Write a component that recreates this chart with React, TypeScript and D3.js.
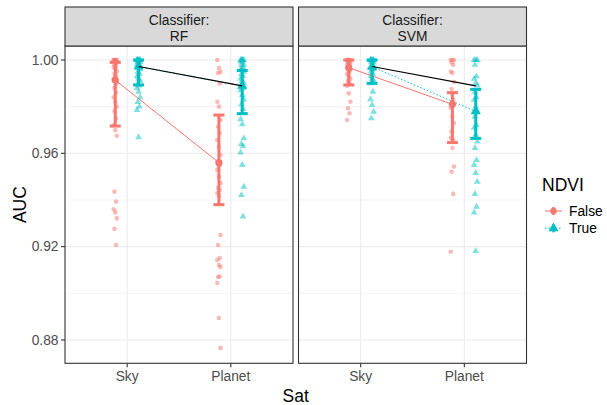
import React from 'react';
import * as d3 from 'd3';

const classifiers = ['RF', 'SVM'];
const sats = ['Sky', 'Planet'];
const ndviLevels = ['False', 'True'];
const yTicks = [0.88, 0.92, 0.96, 1.0];
const yMinor = [0.9, 0.94, 0.98];

// raw AUC points per group
const rfFalseSky = [1.0, 1.0, 1.0, 1.0, 1.0, 1.0, 0.9995, 0.999, 0.998, 0.9975, 0.997, 0.996, 0.995, 0.994, 0.993, 0.992, 0.991, 0.99, 0.988, 0.986, 0.984, 0.982, 0.98, 0.978, 0.975, 0.972, 0.97, 0.9675, 0.9436, 0.9393, 0.936, 0.9347, 0.9321, 0.9276, 0.9207];
const rfFalsePlanet = [1.0, 0.9966, 0.9949, 0.9944, 0.99, 0.9821, 0.98, 0.9743, 0.9714, 0.9687, 0.9657, 0.9628, 0.9593, 0.9564, 0.955, 0.9529, 0.95, 0.9473, 0.9451, 0.9443, 0.943, 0.9417, 0.925, 0.9207, 0.9151, 0.9143, 0.9121, 0.9113, 0.907, 0.9072, 0.9044, 0.8894, 0.8766];
const rfTrueSky = [1.0, 1.0, 1.0, 1.0, 1.0, 1.0, 0.9995, 0.999, 0.999, 0.998, 0.998, 0.997, 0.996, 0.995, 0.994, 0.993, 0.992, 0.991, 0.99, 0.989, 0.988, 0.9864, 0.984, 0.982, 0.98, 0.9786, 0.9669];
const rfTruePlanet = [1.0, 1.0, 1.0, 1.0, 1.0, 0.9995, 0.999, 0.998, 0.998, 0.997, 0.996, 0.996, 0.995, 0.994, 0.993, 0.992, 0.991, 0.99, 0.989, 0.988, 0.987, 0.985, 0.983, 0.981, 0.979, 0.9746, 0.9724, 0.9664, 0.964, 0.963, 0.9603, 0.955, 0.9457, 0.9421, 0.9329];
const svmFalseSky = [1.0, 1.0, 1.0, 1.0, 1.0, 1.0, 0.9995, 0.999, 0.999, 0.998, 0.998, 0.997, 0.996, 0.996, 0.995, 0.994, 0.993, 0.992, 0.991, 0.99, 0.989, 0.9857, 0.9821, 0.9793, 0.9772, 0.9743];
const svmFalsePlanet = [1.0, 1.0, 1.0, 0.999, 0.9979, 0.9951, 0.9944, 0.9906, 0.9876, 0.9829, 0.9794, 0.9757, 0.973, 0.9693, 0.9657, 0.9666, 0.9623, 0.9543, 0.9521, 0.9426, 0.9178];
const svmTrueSky = [1.0, 1.0, 1.0, 1.0, 1.0, 1.0, 0.9995, 0.999, 0.999, 0.998, 0.997, 0.996, 0.996, 0.995, 0.994, 0.993, 0.992, 0.991, 0.99, 0.9864, 0.9832, 0.9807, 0.9778, 0.975];
const svmTruePlanet = [1.0, 1.0, 1.0, 0.9979, 0.993, 0.9919, 0.9901, 0.989, 0.9864, 0.984, 0.9829, 0.98, 0.978, 0.9757, 0.972, 0.9709, 0.9679, 0.965, 0.9623, 0.9571, 0.955, 0.9516, 0.9478, 0.9426, 0.9371, 0.9346, 0.9181];

// summary stats (mean, lower, upper) per classifier: [Sky, Planet]
const rfFalseMean = [0.9914, 0.956];
const rfFalseLow = [0.9717, 0.938];
const rfFalseHigh = [0.999, 0.9764];
const rfTrueMean = [0.9972, 0.9889];
const rfTrueLow = [0.9893, 0.977];
const rfTrueHigh = [1.0, 0.9955];
const svmFalseMean = [0.9967, 0.981];
const svmFalseLow = [0.9893, 0.9646];
const svmFalseHigh = [1.0, 0.986];
const svmTrueMean = [0.9971, 0.978];
const svmTrueLow = [0.99, 0.9664];
const svmTrueHigh = [1.0, 0.9874];

// overall (black) line values [Sky, Planet]
const overallLine = [0.9972, 0.9889];

const points: Record<string, Record<string, number[][]>> = {
  RF: { False: [rfFalseSky, rfFalsePlanet], True: [rfTrueSky, rfTruePlanet] },
  SVM: { False: [svmFalseSky, svmFalsePlanet], True: [svmTrueSky, svmTruePlanet] },
};
const stats: Record<string, Record<string, { mean: number[]; low: number[]; high: number[] }>> = {
  RF: {
    False: { mean: rfFalseMean, low: rfFalseLow, high: rfFalseHigh },
    True: { mean: rfTrueMean, low: rfTrueLow, high: rfTrueHigh },
  },
  SVM: {
    False: { mean: svmFalseMean, low: svmFalseLow, high: svmFalseHigh },
    True: { mean: svmTrueMean, low: svmTrueLow, high: svmTrueHigh },
  },
};

const colors: Record<string, string> = { False: '#F8766D', True: '#00BFC4' };
const FONT = '"Liberation Sans", Arial, Helvetica, sans-serif';

const W = 607;
const H = 405;
const panelTop = 46;
const panelBottom = 363.3;
const panelW = 228;
const panelLefts = [65, 298.5];
const stripTop = 7;

const triSmall = d3.symbol(d3.symbolTriangle, 20)();
const triBig = d3.symbol(d3.symbolTriangle, 44)();

export default function App() {
  const y = d3.scaleLinear().domain([0.87, 1.006]).range([panelBottom, panelTop]);

  const panels = classifiers.map((cl, pi) => {
    const left = panelLefts[pi];
    const x = d3.scalePoint<string>().domain(sats).range([left, left + panelW]).padding(0.6);
    const step = x.step();
    const dodge = (lvl: string) => (lvl === 'False' ? -0.115 : 0.11) * step;
    const lineGen = d3
      .line<number>()
      .x((_, i) => (x(sats[i]) as number) + dodge('True'))
      .y((d) => y(d));
    return (
      <g key={cl}>
        <rect x={left} y={panelTop} width={panelW} height={panelBottom - panelTop} fill="#fff" />
        {yMinor.map((t) => (
          <line key={'mn' + t} x1={left} x2={left + panelW} y1={y(t)} y2={y(t)} stroke="#EBEBEB" strokeWidth={0.6} />
        ))}
        {yTicks.map((t) => (
          <line key={'mj' + t} x1={left} x2={left + panelW} y1={y(t)} y2={y(t)} stroke="#EBEBEB" strokeWidth={1.1} />
        ))}
        {sats.map((s) => (
          <line key={'gx' + s} x1={x(s)} x2={x(s)} y1={panelTop} y2={panelBottom} stroke="#EBEBEB" strokeWidth={1.1} />
        ))}
        {/* raw points */}
        {ndviLevels.map((lvl) =>
          sats.map((s, si) =>
            points[cl][lvl][si].map((v, i) => {
              const cx = (x(s) as number) + dodge(lvl) + (((i * 7) % 5) - 2) * 0.8;
              const cy = y(v);
              return lvl === 'False' ? (
                <circle key={lvl + s + i} cx={cx} cy={cy} r={2.3} fill={colors[lvl]} fillOpacity={0.5} />
              ) : (
                <path key={lvl + s + i} d={triSmall as string} transform={`translate(${cx},${cy})`} fill={colors[lvl]} fillOpacity={0.5} />
              );
            })
          )
        )}
        {/* group mean lines */}
        {ndviLevels.map((lvl) => {
          const lg = d3
            .line<number>()
            .x((_, i) => (x(sats[i]) as number) + dodge(lvl))
            .y((d) => y(d));
          return (
            <path
              key={'ln' + lvl}
              d={lg(stats[cl][lvl].mean) as string}
              fill="none"
              stroke={colors[lvl]}
              strokeWidth={1}
              strokeDasharray={lvl === 'True' ? '1.5,2' : undefined}
            />
          );
        })}
        {/* error bars and means */}
        {ndviLevels.map((lvl) =>
          sats.map((s, si) => {
            const st = stats[cl][lvl];
            const cx = (x(s) as number) + dodge(lvl);
            const c = colors[lvl];
            return (
              <g key={'eb' + lvl + s}>
                <line x1={cx} x2={cx} y1={y(st.low[si])} y2={y(st.high[si])} stroke={c} strokeWidth={3} />
                <line x1={cx - 5.5} x2={cx + 5.5} y1={y(st.low[si])} y2={y(st.low[si])} stroke={c} strokeWidth={3} />
                <line x1={cx - 5.5} x2={cx + 5.5} y1={y(st.high[si])} y2={y(st.high[si])} stroke={c} strokeWidth={3} />
                {lvl === 'False' ? (
                  <circle cx={cx} cy={y(st.mean[si])} r={3.6} fill={c} />
                ) : (
                  <path d={triBig as string} transform={`translate(${cx},${y(st.mean[si])})`} fill={c} />
                )}
              </g>
            );
          })
        )}
        <path d={lineGen(overallLine) as string} fill="none" stroke="#000" strokeWidth={1.1} />
        {/* border */}
        <rect x={left} y={panelTop} width={panelW} height={panelBottom - panelTop} fill="none" stroke="#333333" strokeWidth={1.1} />
        {/* strip */}
        <rect x={left} y={stripTop} width={panelW} height={panelTop - stripTop} fill="#D9D9D9" stroke="#333333" strokeWidth={1.1} />
        <text x={left + panelW / 2} y={25} textAnchor="middle" fontSize={13.8} fill="#1A1A1A" fontFamily={FONT}>
          Classifier:
        </text>
        <text x={left + panelW / 2} y={41} textAnchor="middle" fontSize={13.8} fill="#1A1A1A" fontFamily={FONT}>
          {cl}
        </text>
        {/* x axis */}
        {sats.map((s) => (
          <g key={'xt' + s}>
            <line x1={x(s)} x2={x(s)} y1={panelBottom} y2={panelBottom + 4} stroke="#333333" strokeWidth={1.1} />
            <text x={x(s)} y={panelBottom + 18} textAnchor="middle" fontSize={13.8} fill="#4D4D4D" fontFamily={FONT}>
              {s}
            </text>
          </g>
        ))}
      </g>
    );
  });

  return (
    <svg width={W} height={H} style={{ position: 'absolute', left: 0, top: 0, background: '#fff' }}>
      <rect width={W} height={H} fill="#fff" />
      {panels}
      {/* y axis */}
      {yTicks.map((t) => (
        <g key={'yt' + t}>
          <line x1={61} x2={65} y1={y(t)} y2={y(t)} stroke="#333333" strokeWidth={1.1} />
          <text x={58.5} y={y(t) + 4.8} textAnchor="end" fontSize={13.8} fill="#4D4D4D" fontFamily={FONT}>
            {t.toFixed(2)}
          </text>
        </g>
      ))}
      <text transform={`translate(26,${(panelTop + panelBottom) / 2}) rotate(-90)`} textAnchor="middle" fontSize={17.5} fill="#000" fontFamily={FONT}>
        AUC
      </text>
      <text x={(65 + 298.5 + panelW) / 2} y={402} textAnchor="middle" fontSize={17.5} fill="#000" fontFamily={FONT}>
        Sat
      </text>
      {/* legend */}
      <text x={542} y={191} fontSize={17.5} fill="#000" fontFamily={FONT}>
        NDVI
      </text>
      {ndviLevels.map((lvl, i) => {
        const cy = 211 + i * 17.3;
        const c = colors[lvl];
        return (
          <g key={'lg' + lvl}>
            <line x1={545} x2={562} y1={cy} y2={cy} stroke={c} strokeWidth={1.1} strokeDasharray={lvl === 'True' ? '1.5,2' : undefined} />
            <line x1={553.5} x2={553.5} y1={cy - 4} y2={cy + 4} stroke={c} strokeWidth={2.4} />
            {lvl === 'False' ? (
              <circle cx={553.5} cy={cy} r={3.2} fill={c} />
            ) : (
              <path d={triBig as string} transform={`translate(553.5,${cy})`} fill={c} />
            )}
            <text x={569} y={cy + 5} fontSize={13.8} fill="#000" fontFamily={FONT}>
              {lvl}
            </text>
          </g>
        );
      })}
    </svg>
  );
}
